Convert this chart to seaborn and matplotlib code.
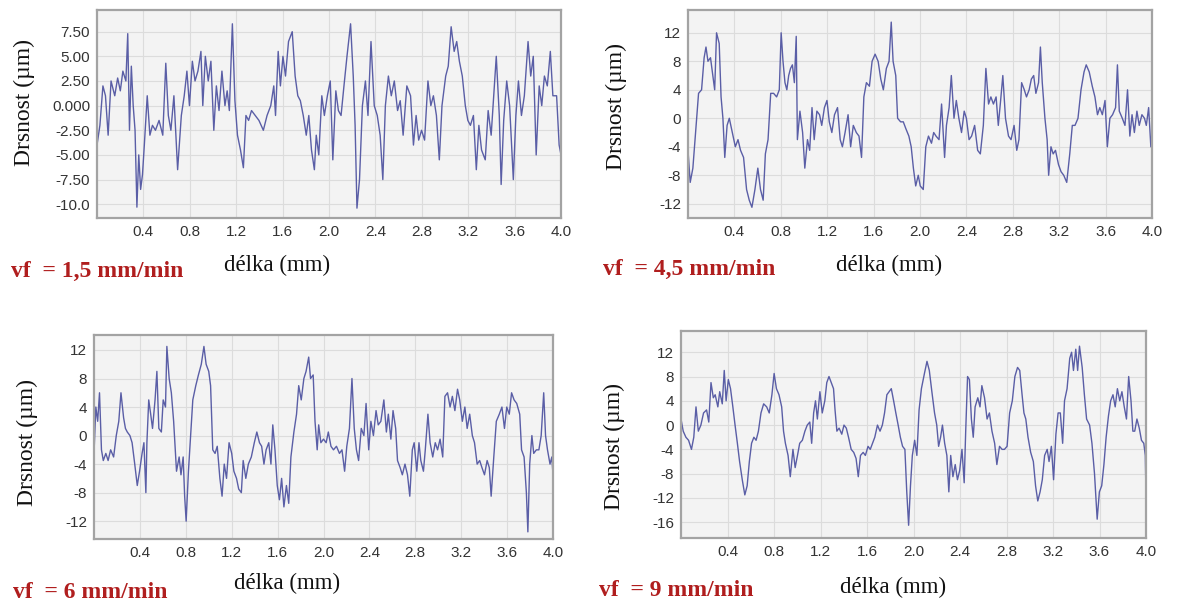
import matplotlib
matplotlib.use("Agg")
import matplotlib.pyplot as plt
import seaborn as sns

# ---------------- data ----------------
xticks = [0.4, 0.8, 1.2, 1.6, 2.0, 2.4, 2.8, 3.2, 3.6, 4.0]
xticklabels = ["0.4", "0.8", "1.2", "1.6", "2.0", "2.4", "2.8", "3.2", "3.6", "4.0"]

p1_x = [0.000, 0.025, 0.051, 0.073, 0.096, 0.121, 0.153, 0.178, 0.201, 0.223, 0.249, 0.265, 0.280, 0.296,
        0.312, 0.328, 0.344, 0.360, 0.376, 0.392, 0.408, 0.433, 0.456, 0.478, 0.504, 0.535, 0.567, 0.593,
        0.615, 0.637, 0.663, 0.695, 0.727, 0.752, 0.775, 0.797, 0.822, 0.845, 0.870, 0.896, 0.912, 0.934,
        0.959, 0.982, 1.007, 1.029, 1.052, 1.077, 1.103, 1.122, 1.141, 1.167, 1.189, 1.211, 1.237, 1.262,
        1.284, 1.307, 1.332, 1.364, 1.396, 1.434, 1.466, 1.498, 1.524, 1.539, 1.562, 1.581, 1.603, 1.625,
        1.651, 1.683, 1.708, 1.731, 1.753, 1.778, 1.804, 1.826, 1.849, 1.874, 1.890, 1.912, 1.938, 1.960,
        1.986, 2.011, 2.033, 2.059, 2.081, 2.104, 2.129, 2.155, 2.186, 2.209, 2.225, 2.241, 2.263, 2.288,
        2.314, 2.336, 2.362, 2.390, 2.416, 2.441, 2.464, 2.486, 2.512, 2.537, 2.563, 2.591, 2.614, 2.639,
        2.671, 2.703, 2.728, 2.751, 2.773, 2.798, 2.824, 2.853, 2.878, 2.900, 2.926, 2.951, 2.974, 3.006,
        3.028, 3.053, 3.079, 3.101, 3.124, 3.149, 3.175, 3.197, 3.219, 3.245, 3.270, 3.292, 3.315, 3.347,
        3.372, 3.398, 3.420, 3.442, 3.468, 3.484, 3.506, 3.532, 3.557, 3.589, 3.611, 3.633, 3.659, 3.684,
        3.716, 3.739, 3.761, 3.786, 3.812, 3.834, 3.857, 3.882, 3.908, 3.930, 3.962, 3.984, 4.000]
p1_y = [-4, -2, 2, 1, -3, 2.5, 1, 2.8, 1.5, 3.5, 2.5, 7.3, -2.5, 4,
        0, -2.5, -10.3, -5, -8.5, -7, -4, 1, -3, -2, -2.5, -1.5, -3, 4.3,
        -1, -2.5, 1, -6.5, -1, 1, 3.5, 0, 4.5, 2.5, 3.5, 5.5, 0, 5,
        2.5, 4.5, -2.5, 2, -0.5, 3.5, 0, 1.5, -0.5, 8.3, 0.5, -3, -4.5, -6.3,
        -1, -1.5, -0.5, -1, -1.5, -2.5, -1, 0, 2, -1, 5.5, 2, 5, 3,
        6.5, 7.5, 3, 1, 0.5, -1, -3, -1, -4.5, -6.5, -3, -5, 1, -1,
        1, 2.5, -5.5, 1.5, -0.5, -1, 2, 5, 8.3, 3, -2, -10.4, -7.5, 0,
        2.5, -1, 6.5, 0, -1, -3, -7.5, 0, 3, 1, 2.5, -0.5, 0.5, -3,
        2, 1, -4, -1, -3.5, -2.5, -3.5, 2.5, 0, 1, -1, -5.5, 0, 3,
        4, 8, 5.5, 6.5, 4.5, 3, 0, -1.5, -2, -1, -6.5, -2, -4.5, -5.5,
        -0.5, -3, 1, 5, -1, -8, -1.5, 2.5, 0, -7.5, -1, 2.5, -1, 1,
        6.5, 3, 5, -5, 2, 0, 3, 2, 5.5, 1, 1, -4, -5]

p2_x = [0.000, 0.019, 0.042, 0.065, 0.091, 0.117, 0.139, 0.155, 0.172, 0.194, 0.214, 0.230, 0.246, 0.269,
        0.285, 0.301, 0.317, 0.337, 0.356, 0.382, 0.408, 0.431, 0.453, 0.479, 0.505, 0.528, 0.551, 0.577,
        0.602, 0.625, 0.648, 0.667, 0.690, 0.713, 0.738, 0.764, 0.787, 0.803, 0.819, 0.836, 0.852, 0.868,
        0.884, 0.900, 0.917, 0.933, 0.943, 0.965, 0.988, 1.007, 1.030, 1.049, 1.069, 1.088, 1.111, 1.134,
        1.153, 1.176, 1.198, 1.218, 1.240, 1.263, 1.289, 1.312, 1.331, 1.354, 1.380, 1.402, 1.425, 1.451,
        1.474, 1.496, 1.516, 1.538, 1.564, 1.587, 1.613, 1.639, 1.662, 1.684, 1.710, 1.733, 1.752, 1.768,
        1.791, 1.807, 1.833, 1.856, 1.879, 1.904, 1.924, 1.943, 1.963, 1.985, 2.002, 2.028, 2.050, 2.073,
        2.099, 2.118, 2.138, 2.164, 2.186, 2.212, 2.228, 2.251, 2.270, 2.293, 2.313, 2.335, 2.358, 2.381,
        2.400, 2.423, 2.445, 2.471, 2.497, 2.520, 2.546, 2.568, 2.591, 2.611, 2.633, 2.656, 2.675, 2.695,
        2.714, 2.737, 2.763, 2.785, 2.811, 2.834, 2.853, 2.876, 2.899, 2.918, 2.941, 2.960, 2.980, 2.999,
        3.022, 3.038, 3.054, 3.077, 3.096, 3.109, 3.129, 3.148, 3.168, 3.194, 3.216, 3.239, 3.265, 3.291,
        3.313, 3.336, 3.362, 3.388, 3.414, 3.433, 3.459, 3.485, 3.508, 3.530, 3.550, 3.572, 3.595, 3.615,
        3.637, 3.660, 3.686, 3.702, 3.718, 3.744, 3.767, 3.789, 3.809, 3.828, 3.848, 3.870, 3.890, 3.913,
        3.935, 3.951, 3.971, 3.990, 4.000]
p2_y = [-4.5, -9, -7, -2, 3.5, 4, 8.5, 10, 8, 8.5, 6, 4, 12, 10.5,
        3, 0, -5.5, -1, 0, -2, -4, -3, -4.5, -5.5, -10, -11.5, -12.5, -10,
        -7, -10, -11.5, -5, -3, 3.5, 3.5, 3, 4, 12, 8, 5, 4, 6,
        7, 7.5, 5, 11.5, -3, 1, -2, -7, -3, -4.5, 1.5, -3, 1, 0.5,
        -1, 1.5, 2.5, -0.5, -2, 0.5, 1.5, -3, -4, -2, 0.5, -4, -1, -2,
        -2.5, -5.5, 3, 5, 4.5, 8, 9, 8, 5.5, 4, 7, 8, 13.5, 8,
        6, 0, -0.5, -0.5, -1.5, -2.5, -4, -7, -9.5, -8, -9.5, -10, -4, -2.5,
        -3.5, -2, -2.5, -3, 2, -5.5, -1, 1.5, 6, 0, 2.5, 0, -2, 1,
        0, -3, -2.5, -1, -4.5, -5, -1, 7, 2, 3, 2, 3, -1, 2.5,
        6, 0, -2.5, -3, -1, -4.5, -3, 5, 4, 3, 4, 5.5, 6, 3.5,
        5, 10, 5, 0, -3, -8, -4, -5, -4.5, -6.5, -7.5, -8, -9, -5,
        -1, -1, 0, 4, 6.5, 7.5, 6.5, 4.5, 3, 0.5, 1.5, 0.5, 2.5, -4,
        0, 0.5, 1.5, 7.5, 1, 0, -1, 4, -2.5, 0.5, -2, 1, -1, 0.5,
        0, -1, 1.5, -4, -2]

p3_x = [0.000, 0.016, 0.032, 0.048, 0.065, 0.081, 0.103, 0.123, 0.145, 0.171, 0.194, 0.216, 0.235, 0.258,
        0.274, 0.290, 0.313, 0.332, 0.355, 0.377, 0.397, 0.419, 0.435, 0.452, 0.461, 0.477, 0.494, 0.510,
        0.532, 0.548, 0.565, 0.587, 0.603, 0.623, 0.635, 0.655, 0.674, 0.694, 0.719, 0.742, 0.758, 0.777,
        0.790, 0.803, 0.823, 0.842, 0.861, 0.887, 0.910, 0.935, 0.958, 0.977, 1.000, 1.016, 1.035, 1.055,
        1.074, 1.097, 1.116, 1.135, 1.155, 1.177, 1.200, 1.219, 1.242, 1.261, 1.284, 1.300, 1.323, 1.345,
        1.371, 1.397, 1.419, 1.442, 1.461, 1.481, 1.500, 1.523, 1.542, 1.558, 1.577, 1.597, 1.616, 1.635,
        1.655, 1.677, 1.697, 1.716, 1.742, 1.765, 1.784, 1.806, 1.829, 1.848, 1.871, 1.887, 1.910, 1.926,
        1.945, 1.958, 1.977, 2.000, 2.023, 2.042, 2.065, 2.087, 2.113, 2.139, 2.161, 2.184, 2.203, 2.226,
        2.248, 2.268, 2.287, 2.306, 2.329, 2.352, 2.371, 2.394, 2.413, 2.435, 2.458, 2.477, 2.500, 2.526,
        2.548, 2.565, 2.587, 2.606, 2.629, 2.645, 2.668, 2.687, 2.710, 2.732, 2.752, 2.774, 2.790, 2.813,
        2.832, 2.848, 2.871, 2.887, 2.910, 2.929, 2.952, 2.974, 2.994, 3.016, 3.039, 3.058, 3.081, 3.103,
        3.123, 3.145, 3.168, 3.187, 3.210, 3.232, 3.252, 3.274, 3.297, 3.316, 3.339, 3.361, 3.381, 3.403,
        3.426, 3.445, 3.461, 3.484, 3.506, 3.532, 3.555, 3.577, 3.597, 3.619, 3.639, 3.661, 3.684, 3.710,
        3.726, 3.748, 3.768, 3.781, 3.797, 3.816, 3.832, 3.855, 3.877, 3.897, 3.919, 3.935, 3.952, 3.974,
        3.990, 4.000]
p3_y = [-2.5, 4, 2, 6, -2, -3.5, -2.5, -3.5, -2, -3, 0, 2, 6, 2.5,
        1, 0.5, 0, -1, -4, -7, -5, -2.5, -1, -8, -1, 5, 3, 1,
        5, 9, 1, 0.5, 5, 4, 12.5, 8, 6, 2, -5, -3, -5.5, -3,
        -8.5, -12, -5, 0, 5, 7, 8.5, 10, 12.5, 10, 9, 7, -2, -2.5,
        -1.5, -6, -8.5, -4, -6, -1, -2.5, -5, -6, -7.5, -8, -3.5, -6, -4,
        -3, -1, 0.5, -1, -1.5, -4, -2, -1, -4, 1.5, -2, -7, -9, -6,
        -10, -7, -9.5, -3, 0.5, 3, 7, 5, 8, 9, 11, 8, 8.5, 2,
        -2, 1.5, -1, -0.5, -1, 0.5, -1.5, -2, -1.5, -2.5, -2, -5, -1.5, 1,
        8, 1, -2, -3.5, 1, 0, 4.5, -2, 2, 0, 3.5, 1.5, 2, 5,
        0.5, 3, -0.5, 3.5, 1, -3.5, -4.5, -5.5, -4, -5.5, -8.5, -2, -1, -5,
        -1, -3.5, -5, -2, 3, -1, -3, -1, -2, -0.5, -3, 5.5, 6, 4,
        5.5, 3.5, 6.5, 5, 2, 4, 1, 3, 0, -1, -4, -3.5, -4.5, -5.5,
        -3.5, -4.5, -8.5, -3, 2, 3, 4, 1, 4, 3, 6, 5, 4.5, 3,
        -2, -3, -8, -13.5, -4, 0, -2.5, -2, -2, 0, 6, 0, -2, -4,
        -3, -5.5]

p4_x = [0.000, 0.019, 0.042, 0.065, 0.090, 0.110, 0.129, 0.149, 0.171, 0.194, 0.220, 0.239, 0.258, 0.278,
        0.294, 0.317, 0.333, 0.355, 0.372, 0.388, 0.407, 0.426, 0.446, 0.465, 0.485, 0.504, 0.527, 0.549,
        0.569, 0.588, 0.607, 0.627, 0.646, 0.666, 0.688, 0.711, 0.737, 0.759, 0.782, 0.801, 0.821, 0.843,
        0.866, 0.882, 0.898, 0.921, 0.940, 0.963, 0.982, 1.002, 1.021, 1.044, 1.066, 1.086, 1.108, 1.124,
        1.141, 1.157, 1.173, 1.195, 1.215, 1.237, 1.254, 1.273, 1.292, 1.312, 1.325, 1.341, 1.360, 1.383,
        1.402, 1.422, 1.441, 1.464, 1.486, 1.506, 1.525, 1.544, 1.567, 1.586, 1.609, 1.628, 1.648, 1.667,
        1.690, 1.712, 1.732, 1.751, 1.771, 1.790, 1.809, 1.829, 1.848, 1.868, 1.887, 1.906, 1.926, 1.942,
        1.958, 1.974, 1.990, 2.010, 2.029, 2.048, 2.068, 2.094, 2.116, 2.136, 2.158, 2.181, 2.200, 2.216,
        2.233, 2.249, 2.268, 2.287, 2.304, 2.320, 2.339, 2.359, 2.378, 2.397, 2.417, 2.436, 2.449, 2.465,
        2.481, 2.498, 2.514, 2.530, 2.553, 2.572, 2.588, 2.611, 2.633, 2.653, 2.675, 2.698, 2.717, 2.740,
        2.762, 2.782, 2.805, 2.827, 2.850, 2.872, 2.895, 2.914, 2.934, 2.950, 2.966, 2.985, 3.008, 3.031,
        3.050, 3.069, 3.089, 3.108, 3.128, 3.150, 3.166, 3.186, 3.205, 3.225, 3.244, 3.263, 3.283, 3.299,
        3.321, 3.344, 3.360, 3.376, 3.396, 3.412, 3.428, 3.451, 3.470, 3.489, 3.515, 3.535, 3.557, 3.580,
        3.599, 3.619, 3.638, 3.657, 3.677, 3.696, 3.716, 3.735, 3.754, 3.774, 3.793, 3.813, 3.832, 3.851,
        3.871, 3.887, 3.903, 3.922, 3.942, 3.961, 3.981, 3.994, 4.000]
p4_y = [1, -1, -2, -2.5, -4, -2, 3, -1, 0, 2, 2.5, 0.5, 7, 4.5,
        5, 3, 5.5, 3.5, 9, 4, 7.5, 6, 3, 0, -3, -6, -9, -11.5,
        -10, -6, -3, -2, -2.5, -1, 2, 3.5, 3, 2, 5, 8.5, 6, 5,
        3, -1, -3, -5, -8.5, -4, -7, -5, -3, -2.5, -1, 0, 0.5, -3,
        2, 4, 1, 5.5, 2, 4, 7, 8, 7, 6, 2.5, -1, -0.5, -1.5,
        0, -0.5, -2, -4, -4.5, -5.5, -8.5, -5, -4.5, -5, -3.5, -4, -3, -2,
        0, -1, 0, 2, 5, 5.5, 6, 4, 2, 0, -2, -3.5, -4, -11,
        -16.5, -10, -5, -2.5, -5, 2.5, 6, 8.5, 10.5, 9, 5.5, 2, 0, -3.5,
        -2, 0, -3, -5, -11, -5, -8.5, -6.5, -9, -7.5, -4, -9.5, -1, 8,
        7.5, 1, -2, 3, 4.5, 3, 6.5, 4.5, 1, 2, -1, -3, -6.5, -3.5,
        -4, -4, -3.5, 2, 4, 8, 9.5, 9, 5, 2, 1, -2, -4.5, -6,
        -10, -12.5, -11, -9, -5, -4, -6, -3.5, -9, -1.5, 2, 2, -3, 4,
        6, 11, 12, 9, 12.5, 9, 13, 9.5, 5, 1, 0, -3, -8, -15.5,
        -11, -10, -6.5, -2, 1.5, 4, 5, 3, 6, 4, 5.5, 3, 1, 8,
        4, -1, -1, 1, -0.5, -2.5, -3, -5, -11.5]

p1_yticks = [-10, -7.5, -5, -2.5, 0, 2.5, 5, 7.5]
p1_yticklabels = ["-10.0", "-7.50", "-5.00", "-2.50", "0.000", "2.50", "5.00", "7.50"]
p2_yticks = [-12, -8, -4, 0, 4, 8, 12]
p3_yticks = [-12, -8, -4, 0, 4, 8, 12]
p4_yticks = [-16, -12, -8, -4, 0, 4, 8, 12]

vf_labels = ["vf  = 1,5 mm/min", "vf  = 4,5 mm/min", "vf  = 6 mm/min", "vf  = 9 mm/min"]
x_label = "délka (mm)"
y_label = "Drsnost (µm)"

# ---------------- styling ----------------
W, H = 1179, 604
sns.set_theme(style="whitegrid", rc={
    "axes.facecolor": "#f3f3f3",
    "axes.edgecolor": "#a3a3a3",
    "axes.linewidth": 1.6,
    "grid.color": "#dcdcdc",
    "grid.linewidth": 0.8,
})
tick_font = ["Liberation Sans", "DejaVu Sans"]
serif_font = ["Liberation Serif", "DejaVu Serif"]
line_color = "#5256a2"
vf_color = "#b01e1e"

fig = plt.figure(figsize=(W / 100, H / 100), dpi=100)
fig.patch.set_facecolor("white")


def add_px_axes(l, t, r, b):
    return fig.add_axes([l / W, 1 - b / H, (r - l) / W, (b - t) / H])


panels = [
    dict(rect=(97, 10, 561, 218), x=p1_x, y=p1_y, ylim=(-11.4, 9.7),
         yt=p1_yticks, ytl=p1_yticklabels, vf=vf_labels[0],
         vfpos=(11, 271), xlpos=(277, 265), ylpos=(24, 102)),
    dict(rect=(688, 10, 1152, 218), x=p2_x, y=p2_y, ylim=(-14.0, 15.2),
         yt=p2_yticks, ytl=[str(v) for v in p2_yticks], vf=vf_labels[1],
         vfpos=(603, 269), xlpos=(889, 265), ylpos=(616, 106)),
    dict(rect=(94, 335, 553, 539), x=p3_x, y=p3_y, ylim=(-14.5, 14.1),
         yt=p3_yticks, ytl=[str(v) for v in p3_yticks], vf=vf_labels[2],
         vfpos=(13, 592), xlpos=(287, 583), ylpos=(27, 442)),
    dict(rect=(681, 331, 1146, 538), x=p4_x, y=p4_y, ylim=(-18.6, 15.5),
         yt=p4_yticks, ytl=[str(v) for v in p4_yticks], vf=vf_labels[3],
         vfpos=(599, 590), xlpos=(893, 587), ylpos=(614, 446)),
]

for p in panels:
    ax = add_px_axes(*p["rect"])
    sns.lineplot(x=p["x"], y=p["y"], ax=ax, color=line_color, linewidth=1.0,
                 sort=False, estimator=None, alpha=0.95)
    ax.set_xlim(0, 4.0)
    ax.set_ylim(*p["ylim"])
    ax.set_xticks(xticks)
    ax.set_xticklabels(xticklabels)
    ax.set_yticks(p["yt"])
    ax.set_yticklabels(p["ytl"])
    ax.tick_params(length=0, pad=5, labelsize=11, labelcolor="#333333")
    for lab in ax.get_xticklabels() + ax.get_yticklabels():
        lab.set_family(tick_font)
    ax.set_xlabel("")
    ax.set_ylabel("")
    ax.grid(True)
    for s in ax.spines.values():
        s.set_visible(True)
        s.set_color("#a3a3a3")
        s.set_linewidth(1.6)

    fig.text(p["xlpos"][0] / W, 1 - p["xlpos"][1] / H, x_label, ha="center", va="center",
             family=serif_font, fontsize=16.5, color="#111111")
    fig.text(p["ylpos"][0] / W, 1 - p["ylpos"][1] / H, y_label, ha="center", va="center",
             rotation=90, family=serif_font, fontsize=17, color="#111111")
    fig.text(p["vfpos"][0] / W, 1 - p["vfpos"][1] / H, p["vf"], ha="left", va="center",
             family=serif_font, fontsize=17, fontweight="bold", color=vf_color)

fig.savefig("out.png", dpi=100, facecolor="white")
